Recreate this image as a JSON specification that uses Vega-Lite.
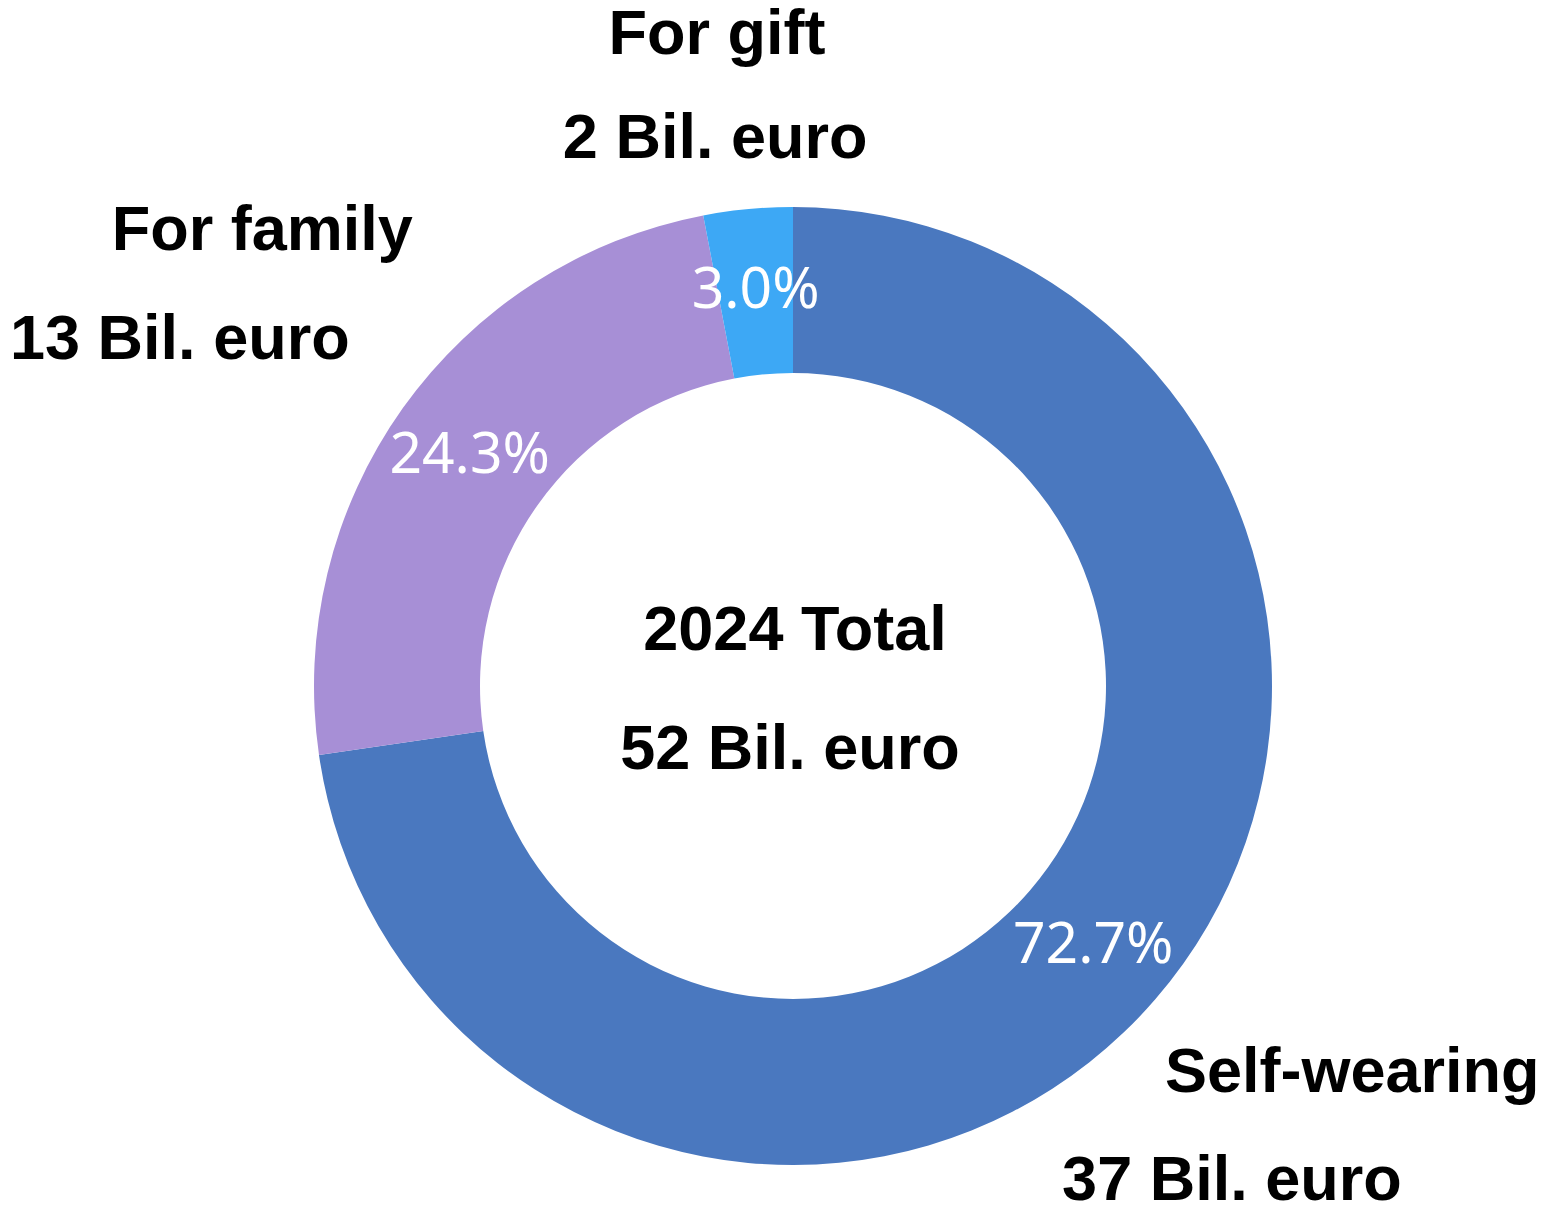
{
  "$schema": "https://vega.github.io/schema/vega-lite/v6.json",
  "width": 1500,
  "height": 1052,
  "autosize": {"type": "none"},
  "padding": {"left": 43, "top": 160, "right": 0, "bottom": 0},
  "background": "white",
  "config": {"view": {"stroke": null}},
  "datasets": {
    "shares": [
      {"cat": "Self-wearing", "amount": "37 Bil. euro", "share": 0.727},
      {"cat": "For family", "amount": "13 Bil. euro", "share": 0.243},
      {"cat": "For gift", "amount": "2 Bil. euro", "share": 0.030}
    ],
    "total": [{"title": "2024 Total", "amount": "52 Bil. euro"}]
  },
  "layer": [
    {
      "data": {"name": "shares"},
      "mark": {"type": "arc", "innerRadius": 313, "outerRadius": 479},
      "encoding": {
        "theta": {"field": "share", "type": "quantitative", "stack": true},
        "order": {"field": "share", "sort": "descending"},
        "color": {"field": "cat", "type": "nominal", "legend": null,
          "scale": {"domain": ["Self-wearing", "For family", "For gift"], "range": ["#4a78bf", "#a78fd6", "#3da8f5"]}}
      }
    },
    {
      "data": {"name": "shares"},
      "mark": {"type": "text", "radius": 397, "font": "Noto Sans", "fontSize": 57, "color": "white", "align": "center", "baseline": "middle"},
      "encoding": {
        "theta": {"field": "share", "type": "quantitative", "stack": true},
        "order": {"field": "share", "sort": "descending"},
        "detail": {"field": "cat", "type": "nominal"},
        "text": {"field": "share", "type": "quantitative", "format": ".1%"}
      }
    },
    {
      "data": {"name": "shares"},
      "mark": {"type": "text", "radius": 659, "dx": -14, "dy": 5, "font": "Liberation Sans", "fontWeight": "bold", "fontSize": 63, "color": "black", "align": "center", "baseline": "middle"},
      "encoding": {
        "theta": {"field": "share", "type": "quantitative", "stack": true},
        "order": {"field": "share", "sort": "descending"},
        "detail": {"field": "cat", "type": "nominal"},
        "text": {"condition": {"test": "datum.cat === 'For gift'", "field": "cat", "type": "nominal"}, "value": ""}
      }
    },
    {
      "data": {"name": "shares"},
      "mark": {"type": "text", "radius": 551, "dx": -26, "dy": 2, "font": "Liberation Sans", "fontWeight": "bold", "fontSize": 63, "color": "black", "align": "center", "baseline": "middle"},
      "encoding": {
        "theta": {"field": "share", "type": "quantitative", "stack": true},
        "order": {"field": "share", "sort": "descending"},
        "detail": {"field": "cat", "type": "nominal"},
        "text": {"condition": {"test": "datum.cat === 'For gift'", "field": "amount", "type": "nominal"}, "value": ""}
      }
    },
    {
      "data": {"name": "shares"},
      "mark": {"type": "text", "radius": 697, "dx": 37, "dy": -51, "font": "Liberation Sans", "fontWeight": "bold", "fontSize": 63, "color": "black", "align": "center", "baseline": "middle"},
      "encoding": {
        "theta": {"field": "share", "type": "quantitative", "stack": true},
        "order": {"field": "share", "sort": "descending"},
        "detail": {"field": "cat", "type": "nominal"},
        "text": {"condition": {"test": "datum.cat === 'For family'", "field": "cat", "type": "nominal"}, "value": ""}
      }
    },
    {
      "data": {"name": "shares"},
      "mark": {"type": "text", "radius": 700, "dx": -43, "dy": 60, "font": "Liberation Sans", "fontWeight": "bold", "fontSize": 63, "color": "black", "align": "center", "baseline": "middle"},
      "encoding": {
        "theta": {"field": "share", "type": "quantitative", "stack": true},
        "order": {"field": "share", "sort": "descending"},
        "detail": {"field": "cat", "type": "nominal"},
        "text": {"condition": {"test": "datum.cat === 'For family'", "field": "amount", "type": "nominal"}, "value": ""}
      }
    },
    {
      "data": {"name": "shares"},
      "mark": {"type": "text", "radius": 676, "dx": 48, "dy": -55, "font": "Liberation Sans", "fontWeight": "bold", "fontSize": 63, "color": "black", "align": "center", "baseline": "middle"},
      "encoding": {
        "theta": {"field": "share", "type": "quantitative", "stack": true},
        "order": {"field": "share", "sort": "descending"},
        "detail": {"field": "cat", "type": "nominal"},
        "text": {"condition": {"test": "datum.cat === 'Self-wearing'", "field": "cat", "type": "nominal"}, "value": ""}
      }
    },
    {
      "data": {"name": "shares"},
      "mark": {"type": "text", "radius": 657, "dx": -58, "dy": 65, "font": "Liberation Sans", "fontWeight": "bold", "fontSize": 63, "color": "black", "align": "center", "baseline": "middle"},
      "encoding": {
        "theta": {"field": "share", "type": "quantitative", "stack": true},
        "order": {"field": "share", "sort": "descending"},
        "detail": {"field": "cat", "type": "nominal"},
        "text": {"condition": {"test": "datum.cat === 'Self-wearing'", "field": "amount", "type": "nominal"}, "value": ""}
      }
    },
    {
      "data": {"name": "total"},
      "mark": {"type": "text", "x": {"expr": "width/2"}, "y": {"expr": "height/2"}, "dx": 2, "dy": -55, "font": "Liberation Sans", "fontWeight": "bold", "fontSize": 63, "color": "black", "align": "center", "baseline": "middle"},
      "encoding": {"text": {"field": "title", "type": "nominal"}}
    },
    {
      "data": {"name": "total"},
      "mark": {"type": "text", "x": {"expr": "width/2"}, "y": {"expr": "height/2"}, "dx": -3, "dy": 64, "font": "Liberation Sans", "fontWeight": "bold", "fontSize": 63, "color": "black", "align": "center", "baseline": "middle"},
      "encoding": {"text": {"field": "amount", "type": "nominal"}}
    }
  ]
}
